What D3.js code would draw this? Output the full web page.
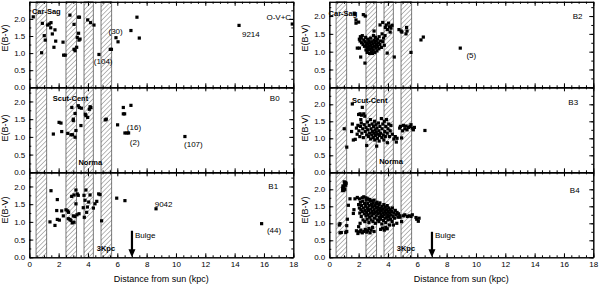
<!DOCTYPE html>
<html><head><meta charset="utf-8">
<script src="https://cdn.jsdelivr.net/npm/d3@7"></script>
<style>body{margin:0;background:#fff}svg{display:block}text{font-family:"Liberation Sans",Arial,sans-serif;fill:#000}</style>
</head><body><svg id="c" width="600" height="287"></svg>
<script>
// ---------------- data ----------------
const xMajorTicks = [0,2,4,6,8,10,12,14,16,18];
const yMajorTicks = [0,0.5,1,1.5,2];
const bands = [[0.46,1.19],[2.5,3.23],[3.73,4.36],[4.89,5.62]];
const panelNames = ["O-V+C","B0","B1","B2","B3","B4"];
const panelYMax = [2.5,2.4,2.4,2.4,2.5,2.5];

const ptsOV = [[0.27,2.06],[0.89,1.87],[0.84,1.01],[1.02,1.51],[1.09,1.38],[1.25,1.82],[1.36,1.85],[1.46,1.74],[1.48,1.89],[1.57,1.56],[1.75,1.68],[1.80,1.35],[1.68,1.17],[2.30,1.32],[2.34,0.94],[2.45,0.94],[2.77,2.11],[3.05,1.84],[3.05,1.11],[3.12,1.07],[3.23,1.17],[3.27,1.46],[3.36,1.58],[3.39,1.38],[3.46,1.41],[3.36,2.05],[3.42,2.05],[3.98,1.97],[4.18,1.89],[4.41,1.82],[4.75,0.96],[5.52,1.11],[5.60,1.11],[5.91,1.45],[6.05,1.33],[6.93,1.66],[7.34,2.05],[7.50,1.44],[14.3,1.81],[17.93,1.85]];

const ptsB0 = [[1.64,1.08],[2.03,1.41],[2.16,1.39],[2.21,1.15],[2.62,1.10],[2.84,1.06],[2.95,1.06],[3.12,0.99],[2.90,1.83],[3.00,1.50],[3.00,1.46],[3.12,1.66],[3.18,1.18],[3.34,1.88],[3.41,1.83],[3.55,1.81],[3.52,1.32],[3.82,1.64],[3.86,1.60],[3.98,1.55],[4.09,1.78],[4.14,1.85],[4.20,1.83],[5.18,1.48],[5.25,1.50],[6.02,1.34],[6.41,1.83],[6.41,1.65],[6.50,1.65],[6.93,1.89],[6.52,1.11],[6.66,1.11],[6.77,1.11],[10.61,1.01]];

const ptsB1 = [[1.48,1.88],[1.41,1.00],[1.75,0.90],[1.91,1.63],[1.91,1.07],[2.05,1.05],[1.87,1.32],[2.21,1.31],[2.32,1.17],[2.50,1.34],[2.62,1.31],[2.68,1.27],[2.66,1.09],[2.77,1.07],[2.84,1.04],[2.93,0.97],[3.05,0.99],[2.89,1.72],[3.05,1.76],[3.18,1.90],[3.27,1.79],[3.34,1.75],[3.18,1.51],[3.00,1.17],[3.11,1.15],[3.25,1.20],[3.39,1.23],[3.68,1.40],[3.73,1.75],[3.80,1.61],[3.86,1.90],[3.75,1.13],[3.91,1.27],[3.96,1.42],[4.05,1.56],[4.14,1.76],[4.37,1.39],[4.48,1.51],[4.60,1.58],[4.73,1.79],[4.82,1.77],[4.93,1.03],[5.96,1.67],[6.52,1.60],[8.64,1.37],[15.84,0.95]];

const ptsB2 = [[1.70,2.08],[1.74,2.05],[1.82,1.89],[1.82,1.80],[2.00,1.83],[2.32,2.04],[2.45,2.00],[1.91,1.10],[2.05,1.10],[2.14,0.85],[2.43,0.68],[2.05,1.35],[2.10,1.30],[2.12,1.42],[2.18,1.38],[2.20,1.25],[2.25,1.45],[2.30,1.20],[2.35,1.33],[2.40,1.15],[2.42,1.28],[2.48,1.40],[2.50,1.05],[2.52,1.18],[2.55,1.25],[2.58,0.98],[2.60,1.12],[2.62,1.35],[2.65,1.22],[2.68,1.05],[2.70,1.30],[2.72,1.15],[2.75,0.95],[2.78,1.25],[2.80,1.08],[2.82,1.38],[2.85,1.18],[2.88,1.00],[2.90,1.28],[2.92,1.12],[2.95,0.95],[2.98,1.22],[3.00,1.05],[3.02,1.45],[3.05,1.58],[3.05,1.32],[3.08,1.15],[3.10,0.98],[3.12,1.25],[3.15,1.40],[3.18,1.10],[3.20,1.30],[3.22,1.20],[3.25,1.02],[3.28,1.35],[3.30,1.15],[3.35,1.25],[3.38,1.08],[3.40,1.42],[3.45,1.20],[3.46,1.75],[3.50,1.30],[3.55,1.12],[3.60,1.50],[3.64,1.82],[3.65,1.28],[3.70,1.38],[3.75,1.18],[3.80,1.45],[3.82,1.68],[3.88,1.75],[3.95,0.96],[3.96,1.62],[4.04,1.80],[4.10,1.70],[4.15,1.55],[4.20,1.66],[4.28,1.74],[4.43,0.85],[4.75,1.62],[4.90,1.58],[4.95,1.55],[5.23,1.50],[5.27,1.68],[5.30,1.58],[5.57,0.98],[6.25,1.33],[6.41,1.41],[8.93,1.10]];

const ptsB3 = [[1.02,1.28],[1.19,0.74],[1.57,2.01],[1.57,1.42],[1.52,1.20],[1.64,0.95],[1.77,0.97],[2.25,1.91],[2.00,1.70],[2.10,1.72],[2.20,1.68],[2.35,1.72],[2.42,1.65],[2.15,1.55],[1.85,1.30],[1.90,1.12],[1.95,1.38],[2.02,1.22],[2.08,1.05],[2.12,1.35],[2.18,1.45],[2.22,1.15],[2.28,1.28],[2.32,1.02],[2.38,1.40],[2.45,1.20],[2.50,1.32],[2.55,0.79],[2.55,1.10],[2.60,1.48],[2.62,1.25],[2.68,1.05],[2.72,1.38],[2.75,1.15],[2.80,1.55],[2.82,0.98],[2.85,1.28],[2.90,1.10],[2.92,1.42],[2.95,1.20],[3.00,1.02],[3.02,1.35],[3.05,1.15],[3.08,1.50],[3.10,0.95],[3.12,1.25],[3.15,1.08],[3.18,1.40],[3.20,1.18],[3.23,0.77],[3.25,1.30],[3.28,1.00],[3.30,1.12],[3.35,1.45],[3.38,1.22],[3.40,0.92],[3.42,1.08],[3.45,1.35],[3.50,1.15],[3.55,1.58],[3.58,1.02],[3.60,1.28],[3.65,1.42],[3.68,1.10],[3.72,0.95],[3.75,1.50],[3.78,1.20],[3.82,1.05],[3.85,1.35],[3.90,1.55],[3.95,1.15],[3.96,0.87],[4.00,1.28],[4.05,1.42],[4.10,1.05],[4.15,1.22],[4.20,1.38],[4.30,1.12],[4.40,0.98],[4.50,1.05],[4.57,0.89],[4.62,1.00],[4.80,1.30],[4.85,1.35],[4.93,1.01],[5.00,1.22],[5.05,1.38],[5.15,1.28],[5.23,1.36],[5.30,1.25],[5.40,1.32],[5.50,1.35],[5.57,1.40],[5.65,1.30],[5.73,1.25],[5.80,1.32],[6.52,1.23]];

const ptsB4 = [[0.91,2.03],[0.93,2.10],[1.00,2.08],[1.05,2.15],[1.09,2.20],[1.12,2.12],[1.05,2.00],[0.98,1.97],[0.91,1.96],[1.15,2.18],[1.02,2.22],[0.73,0.99],[0.68,0.95],[0.73,0.72],[0.82,0.73],[1.19,0.93],[1.19,0.76],[1.12,0.73],[1.23,1.12],[1.30,1.53],[1.41,1.72],[1.64,1.29],[1.68,1.40],[1.75,1.72],[1.91,1.76],[2.05,1.72],[1.85,0.78],[1.95,0.70],[2.05,0.75],[2.15,0.80],[2.25,0.72],[2.35,0.76],[2.45,0.82],[2.55,0.74],[2.62,0.78],[2.70,0.85],[2.78,0.72],[2.85,0.80],[2.95,0.88],[3.05,0.76],[3.50,0.82],[3.62,0.86],[3.75,0.80],[3.85,0.88],[3.95,0.84],[2.00,0.90],[2.10,1.00],[2.00,1.55],[2.05,1.45],[2.08,1.30],[2.12,1.62],[2.15,1.40],[2.18,1.20],[2.20,1.52],[2.25,1.35],[2.28,1.65],[2.30,1.10],[2.32,1.45],[2.38,1.28],[2.40,1.58],[2.42,1.05],[2.45,1.38],[2.48,1.50],[2.50,1.22],[2.52,1.68],[2.55,1.32],[2.58,1.12],[2.60,1.45],[2.62,1.58],[2.65,1.25],[2.68,1.38],[2.70,1.02],[2.72,1.52],[2.75,1.18],[2.78,1.65],[2.80,1.30],[2.82,1.42],[2.85,1.10],[2.88,1.55],[2.90,1.22],[2.92,1.35],[2.95,1.48],[2.98,1.05],[3.00,1.60],[3.02,1.28],[3.05,1.40],[3.08,1.15],[3.10,1.52],[3.12,1.32],[3.15,1.00],[3.18,1.45],[3.20,1.22],[3.22,1.58],[3.25,1.35],[3.28,1.10],[3.30,1.48],[3.32,1.28],[3.35,1.40],[3.38,1.05],[3.40,1.55],[3.42,1.18],[3.45,1.32],[3.48,1.45],[3.50,1.12],[3.52,1.25],[3.55,1.38],[3.58,0.98],[3.60,1.50],[3.62,1.20],[3.65,1.30],[3.68,1.42],[3.70,1.08],[3.72,1.55],[3.75,1.25],[3.78,1.35],[3.80,1.15],[3.82,1.48],[3.85,1.02],[3.88,1.30],[3.90,1.40],[3.92,1.18],[3.95,1.52],[3.98,1.25],[4.00,1.10],[4.02,1.35],[4.05,1.45],[4.08,1.20],[4.10,0.95],[4.12,1.30],[4.15,1.40],[4.18,1.12],[4.20,1.25],[4.25,1.35],[4.28,1.05],[4.30,1.45],[4.35,1.20],[4.37,0.95],[4.40,1.30],[4.45,1.15],[4.50,1.38],[4.55,1.25],[4.60,1.00],[4.62,1.32],[4.68,1.18],[4.72,1.28],[4.80,1.22],[4.82,1.18],[4.93,1.05],[5.05,1.22],[5.15,1.25],[5.32,1.20],[5.45,1.22],[5.57,1.20],[5.66,1.25],[5.91,1.17],[5.96,1.12],[6.07,1.06],[6.12,1.15],[2.25,1.75],[2.35,1.78],[2.50,1.75],[2.62,1.72],[2.75,1.70],[2.90,1.66],[3.05,1.68],[3.25,1.62],[3.45,1.60]];

const panelPoints = [ptsOV, ptsB0, ptsB1, ptsB2, ptsB3, ptsB4];

// annotations: [panel, text, d, E, anchor, bold]
const notes = [
  [0,"Car-Sag",0.18,2.15,"start",true],[0,"O-V+C",17.85,1.98,"end",false],[0,"(30)",5.4,1.56,"start",false],[0,"(104)",4.4,0.67,"start",false],[0,"9214",14.5,1.47,"start",false],
  [1,"Scut-Cent",1.6,2.0,"start",true],[1,"B0",16.4,2.0,"start",false],[1,"(16)",6.65,1.20,"start",false],[1,"(2)",6.85,0.76,"start",false],[1,"(107)",10.55,0.72,"start",false],[1,"Norma",3.35,0.22,"start",true],
  [2,"B1",16.3,1.94,"start",false],[2,"9042",8.55,1.41,"start",false],[2,"(44)",16.2,0.68,"start",false],[2,"3Kpc",4.6,0.17,"start",true],[2,"Bulge",7.2,0.55,"start",false],
  [3,"Car-Sag",-0.05,1.99,"start",true],[3,"B2",16.6,1.92,"start",false],[3,"(5)",9.35,0.83,"start",false],
  [4,"Scut-Cent",1.55,2.03,"start",true],[4,"Norma",3.4,0.23,"start",true],[4,"B3",16.3,1.98,"start",false],
  [5,"B4",16.4,1.89,"start",false],[5,"3Kpc",4.6,0.18,"start",true],[5,"Bulge",7.2,0.57,"start",false]
];
const bulgeD = 7;
const yTitleCenter = [38,128,210];

// ---------------- drawing ----------------
const svg = d3.select("#c");
const defs = svg.append("defs");
const pat = defs.append("pattern").attr("id","hatch").attr("patternUnits","userSpaceOnUse")
  .attr("width",3.3).attr("height",3.3).attr("patternTransform","rotate(45)");
pat.append("line").attr("x1",0).attr("y1",0).attr("x2",0).attr("y2",3.3)
  .attr("stroke","#555").attr("stroke-width",0.8);

const colX = [29.3, 329.3], W = 264;
const rowTop = [1.8, 87.3, 172.3], rowBot = [87.3, 172.3, 257.3];

panelNames.forEach((name, i) => {
  const col = Math.floor(i/3), row = i%3;
  const x = d3.scaleLinear().domain([0,18]).range([colX[col], colX[col]+W]);
  const y = d3.scaleLinear().domain([0,panelYMax[i]]).range([rowBot[row], rowTop[row]]);
  const g = svg.append("g");

  // hatched bands
  g.selectAll("rect.band").data(bands).join("rect")
    .attr("x", d=>x(d[0])).attr("width", d=>x(d[1])-x(d[0]))
    .attr("y", rowTop[row]).attr("height", rowBot[row]-rowTop[row])
    .attr("fill","url(#hatch)").attr("stroke","#444").attr("stroke-width",0.7);

  // axes
  const xMinor = d3.range(0,18.01,0.5);
  const yMinor = d3.range(0,panelYMax[i]+0.001,0.25);
  const ax = (a) => a.tickSizeOuter(0);
  const mk = (sel) => sel.call(s=>s.selectAll(".domain").attr("stroke","#000"))
      .call(s=>s.selectAll("text").attr("font-size",8).attr("font-family","'Liberation Sans',Arial,sans-serif"));
  // bottom
  g.append("g").attr("transform",`translate(0,${rowBot[row]})`)
    .call(ax(d3.axisBottom(x).tickValues(xMinor).tickSize(-2).tickFormat(""))).call(mk);
  g.append("g").attr("transform",`translate(0,${rowBot[row]})`)
    .call(ax(d3.axisBottom(x).tickValues(xMajorTicks).tickSize(-4).tickPadding(4)
      .tickFormat(row===2 ? d3.format("d") : ""))).call(mk);
  // top
  g.append("g").attr("transform",`translate(0,${rowTop[row]})`)
    .call(ax(d3.axisTop(x).tickValues(xMinor).tickSize(-2).tickFormat(""))).call(mk);
  g.append("g").attr("transform",`translate(0,${rowTop[row]})`)
    .call(ax(d3.axisTop(x).tickValues(xMajorTicks).tickSize(-4).tickFormat(""))).call(mk);
  // left
  g.append("g").attr("transform",`translate(${colX[col]},0)`)
    .call(ax(d3.axisLeft(y).tickValues(yMinor).tickSize(-2).tickFormat(""))).call(mk);
  g.append("g").attr("transform",`translate(${colX[col]},0)`)
    .call(ax(d3.axisLeft(y).tickValues(yMajorTicks).tickSize(-4).tickPadding(4).tickFormat(d3.format(".1f")))).call(mk);
  // right
  g.append("g").attr("transform",`translate(${colX[col]+W},0)`)
    .call(ax(d3.axisRight(y).tickValues(yMinor).tickSize(-2).tickFormat(""))).call(mk);
  g.append("g").attr("transform",`translate(${colX[col]+W},0)`)
    .call(ax(d3.axisRight(y).tickValues(yMajorTicks).tickSize(-4).tickFormat(""))).call(mk);

  // points
  const s = 3.2;
  g.selectAll("rect.pt").data(panelPoints[i]).join("rect")
    .attr("x", d=>x(d[0])-s/2).attr("y", d=>y(d[1])-s/2)
    .attr("width", s).attr("height", s).attr("fill","#000");

  // annotations
  g.selectAll("text.note").data(notes.filter(n=>n[0]===i)).join("text")
    .attr("x", d=>x(d[2])).attr("y", d=>y(d[3]))
    .attr("text-anchor", d=>d[4]).attr("font-size", d=>d[5]?7.5:8)
    .attr("font-weight", d=>d[5]?"bold":"normal").text(d=>d[1]);

  // bulge arrow
  if (row===2) {
    const bx = x(bulgeD);
    g.append("line").attr("x1",bx).attr("x2",bx).attr("y1",y(0.75)).attr("y2",rowBot[row]-6)
      .attr("stroke","#000").attr("stroke-width",2.2);
    g.append("path").attr("d",`M${bx-3.5},${rowBot[row]-8} L${bx+3.5},${rowBot[row]-8} L${bx},${rowBot[row]} Z`).attr("fill","#000");
  }

  // y title
  g.append("text").attr("transform",`translate(${colX[col]-21},${yTitleCenter[row]}) rotate(-90)`)
    .attr("text-anchor","middle").attr("font-size",9).text("E(B-V)");
  if (row===2) {
    g.append("text").attr("x", colX[col]+W/2).attr("y", 282).attr("text-anchor","middle")
      .attr("font-size",9).text("Distance from sun (kpc)");
  }
});
</script></body></html>
